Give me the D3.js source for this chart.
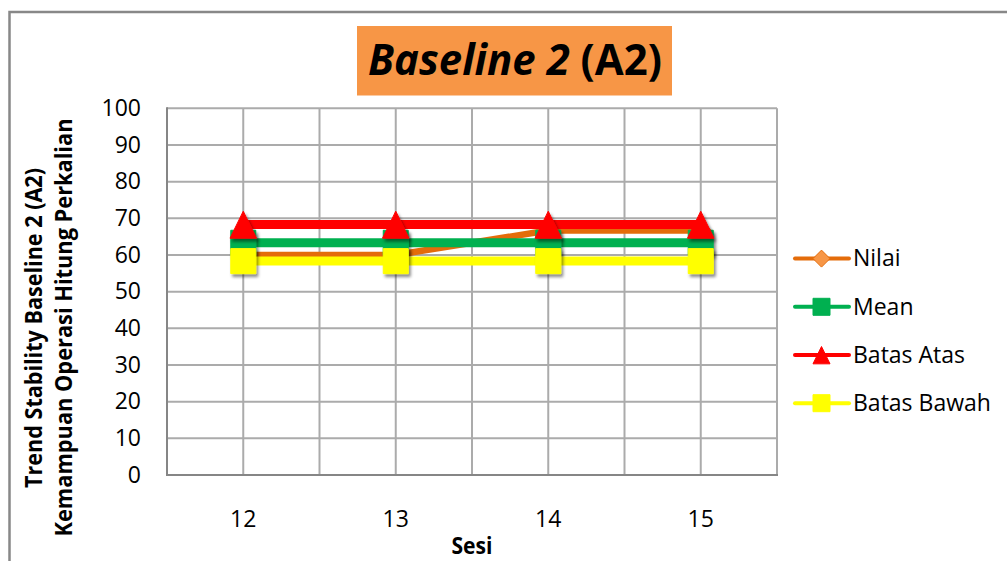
<!DOCTYPE html>
<html>
<head>
<meta charset="utf-8">
<script src="https://cdn.jsdelivr.net/npm/d3@7"></script>
<style>
  body { margin: 0; background: #fff; }
  svg { display: block; font-family: "Open Sans", "Noto Sans", sans-serif; }
</style>
</head>
<body>
<svg id="chart" width="1007" height="561"></svg>
<script>
// Sessions on the x axis
const sessions = [12, 13, 14, 15];
// Series values per session
const nilai      = [60, 60, 66.67, 66.67];
const mean       = [63.33, 63.33, 63.33, 63.33];
const batasAtas  = [68.33, 68.33, 68.33, 68.33];
const batasBawah = [58.33, 58.33, 58.33, 58.33];
// Axis ticks
const yTicks = [0, 10, 20, 30, 40, 50, 60, 70, 80, 90, 100];
const seriesNames = ["Nilai", "Mean", "Batas Atas", "Batas Bawah"];

const series = [
  { name: seriesNames[0], values: nilai,      line: "#E46C0A", fill: "#F79646", stroke: "#E46C0A", shape: "diamond",  width: 6.5 },
  { name: seriesNames[1], values: mean,       line: "#00B050", fill: "#00B050", stroke: "#00B050", shape: "square",   width: 9 },
  { name: seriesNames[2], values: batasAtas,  line: "#FF0000", fill: "#FF0000", stroke: "#FF0000", shape: "triangle", width: 9 },
  { name: seriesNames[3], values: batasBawah, line: "#FFFF00", fill: "#FFFF00", stroke: "#FFFF00", shape: "square",   width: 9 }
];

const svg = d3.select("#chart");
const plot = { left: 167, right: 777, top: 108.3, bottom: 475 };

const x = d3.scalePoint().domain(sessions).range([plot.left, plot.right]).padding(0.5);
const y = d3.scaleLinear().domain([0, 100]).range([plot.bottom, plot.top]);
const step = x.step();

// drop shadow for markers
const defs = svg.append("defs");
const f = defs.append("filter").attr("id", "shadow")
  .attr("x", "-50%").attr("y", "-50%").attr("width", "200%").attr("height", "200%");
f.append("feDropShadow").attr("dx", 2).attr("dy", 3).attr("stdDeviation", 1.6)
  .attr("flood-color", "#000").attr("flood-opacity", 0.45);

// outer chart border
svg.append("rect").attr("x", 9.5).attr("y", 12).attr("width", 1200).attr("height", 800)
  .attr("fill", "#fff").attr("stroke", "#888").attr("stroke-width", 2.5);

// shrink a text element horizontally if wider than a target
function fitWidth(sel, target, cx) {
  const w = sel.node().getBBox().width;
  if (w > target) {
    const k = target / w;
    sel.attr("transform", `translate(${cx},0) scale(${k},1) translate(${-cx},0)`);
  }
}
function fitLength(sel, target) {
  const w = sel.node().getComputedTextLength();
  if (w > target) sel.attr("textLength", target).attr("lengthAdjust", "spacingAndGlyphs");
}

// title
svg.append("rect").attr("x", 357).attr("y", 26).attr("width", 315).attr("height", 69.5)
  .attr("fill", "#F79646");
const title = svg.append("text").attr("x", 515).attr("y", 75)
  .attr("text-anchor", "middle").attr("font-size", 43).attr("font-weight", "bold").attr("fill", "#000");
title.append("tspan").attr("font-style", "italic").text("Baseline 2");
title.append("tspan").text(" (A2)");
fitWidth(title, 294, 515);

// gridlines
const grid = svg.append("g");
grid.selectAll("line.h").data(yTicks.filter(d => d > 0)).join("line")
  .attr("x1", plot.left).attr("x2", plot.right)
  .attr("y1", d => y(d)).attr("y2", d => y(d))
  .attr("stroke", "#ABABAB").attr("stroke-width", 2);
const vLines = [];
sessions.forEach(s => { vLines.push(x(s)); vLines.push(x(s) + step / 2); });
grid.selectAll("line.v").data(vLines).join("line")
  .attr("x1", d => d).attr("x2", d => d)
  .attr("y1", plot.top).attr("y2", plot.bottom)
  .attr("stroke", "#ABABAB").attr("stroke-width", 2);

// axes lines
svg.append("line").attr("x1", plot.left).attr("x2", plot.left).attr("y1", plot.top - 1).attr("y2", plot.bottom + 1)
  .attr("stroke", "#868686").attr("stroke-width", 2);
svg.append("line").attr("x1", plot.left - 1).attr("x2", plot.right + 1).attr("y1", plot.bottom).attr("y2", plot.bottom)
  .attr("stroke", "#868686").attr("stroke-width", 2);

// y tick labels
svg.append("g").selectAll("text").data(yTicks).join("text")
  .attr("x", 141).attr("y", d => y(d) + 7.8)
  .attr("text-anchor", "end").attr("font-size", 23).attr("fill", "#000")
  .text(d => d);

// x tick labels
svg.append("g").selectAll("text").data(sessions).join("text")
  .attr("x", d => x(d)).attr("y", 527)
  .attr("text-anchor", "middle").attr("font-size", 23).attr("fill", "#000")
  .text(d => d);

// x axis title
const xt = svg.append("text").attr("x", 472).attr("y", 554).attr("text-anchor", "middle")
  .attr("font-size", 24).attr("font-weight", "bold").text("Sesi");
fitLength(xt, 41);

// y axis title (two lines)
const yt1 = svg.append("text").attr("transform", "translate(42,328) rotate(-90)")
  .attr("text-anchor", "middle").attr("font-size", 23.5).attr("font-weight", "bold")
  .text("Trend Stability Baseline 2 (A2)");
fitLength(yt1, 320);
const yt2 = svg.append("text").attr("transform", "translate(72,327.5) rotate(-90)")
  .attr("text-anchor", "middle").attr("font-size", 23.5).attr("font-weight", "bold")
  .text("Kemampuan Operasi Hitung Perkalian");
fitLength(yt2, 418);

// marker path builders
function markerPath(shape, s) {
  if (shape === "square") {
    const h = s / 2;
    return `M${-h},${-h}H${h}V${h}H${-h}Z`;
  }
  if (shape === "diamond") {
    const h = s / 2;
    return `M0,${-h}L${h},0L0,${h}L${-h},0Z`;
  }
  // triangle: slightly taller than wide
  const w = s / 2, top = -s * 0.5, bot = s * 0.52;
  return `M0,${top}L${w},${bot}L${-w},${bot}Z`;
}

// series lines and markers
const line = d3.line().x((d, i) => x(sessions[i])).y(d => y(d));
const sizes = { square: 25, triangle: 26.5, diamond: 21 };
series.forEach(s => {
  const g = svg.append("g");
  g.append("path").attr("d", line(s.values))
    .attr("fill", "none").attr("stroke", s.line).attr("stroke-width", s.width)
    .attr("stroke-linejoin", "round");
  g.selectAll("path.m").data(s.values).join("path")
    .attr("class", "m")
    .attr("transform", (d, i) => `translate(${x(sessions[i])},${y(d)})`)
    .attr("d", markerPath(s.shape, sizes[s.shape]))
    .attr("fill", s.fill).attr("stroke", s.stroke).attr("stroke-width", 1)
    .attr("filter", "url(#shadow)");
});

// legend
const legend = svg.append("g");
series.forEach((s, i) => {
  const ly = 258.6 + i * 48.2;
  const g = legend.append("g");
  g.append("line").attr("x1", 795).attr("x2", 849).attr("y1", ly).attr("y2", ly)
    .attr("stroke", s.line).attr("stroke-width", 4).attr("stroke-linecap", "round");
  g.append("path").attr("transform", `translate(821.5,${ly})`)
    .attr("d", markerPath(s.shape, 17))
    .attr("fill", s.fill).attr("stroke", s.stroke).attr("stroke-width", 1);
  g.append("text").attr("x", 853).attr("y", ly + 7.8)
    .attr("font-size", 23).attr("fill", "#000").text(s.name);
});
</script>
</body>
</html>
